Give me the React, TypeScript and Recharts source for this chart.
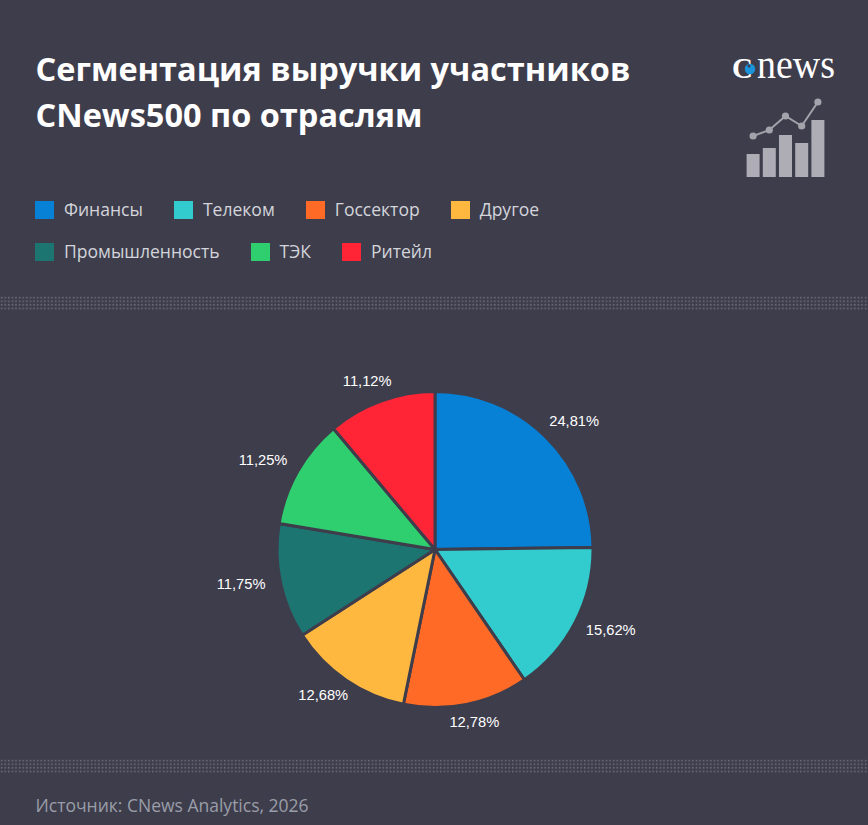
import { Bar, Cell, ComposedChart, Line, Pie, PieChart, XAxis, YAxis } from 'recharts';

const categories = ['Финансы', 'Телеком', 'Госсектор', 'Другое', 'Промышленность', 'ТЭК', 'Ритейл'];
const shares = [24.81, 15.62, 12.78, 12.68, 11.75, 11.25, 11.12];
const colors = ['#0681d6', '#32cccf', '#ff6b26', '#ffb83f', '#1d7572', '#2fce6f', '#ff2536'];
const legendRows = [[0, 1, 2, 3], [4, 5, 6]];

const iconBars = [23, 29, 42, 34, 57];
const iconLine = [41, 47, 61, 51, 75];

const BG = '#3e3d4c';
const pieData = categories.map((name, i) => ({ name, value: shares[i] }));
const iconData = iconBars.map((bar, i) => ({ i, bar, line: iconLine[i] }));

const font = '"Open Sans", sans-serif';

function Dots({ top, id }: { top: number; id: string }) {
  return (
    <svg width={868} height={14} style={{ position: 'absolute', left: 0, top }}>
      <defs>
        <pattern id={id} width={3.6} height={3.6} patternUnits="userSpaceOnUse">
          <rect x={0.8} y={0.8} width={1.6} height={1.6} fill="#8a8a94" />
        </pattern>
      </defs>
      <rect x={0} y={0} width={868} height={14} fill={`url(#${id})`} opacity={0.6} />
    </svg>
  );
}

function renderLabel(props: any) {
  const { cx, cy, midAngle, value } = props;
  const rad = (midAngle * Math.PI) / 180;
  const x = cx + 198 * Math.cos(rad);
  const y = cy - 1.5 - 178 * Math.sin(rad);
  return (
    <text x={x} y={y} fill="#ffffff" textAnchor="middle" dominantBaseline="central"
      style={{ fontFamily: '"Liberation Sans", Arial, sans-serif', fontSize: 14.7 }}>
      {value.toFixed(2).replace('.', ',')}%
    </text>
  );
}

export default function App() {
  return (
    <div style={{ position: 'absolute', left: 0, top: 0, width: 868, height: 825, background: BG, overflow: 'hidden', fontFamily: font }}>
      <div style={{ position: 'absolute', left: 35.5, top: 46, color: '#ffffff', fontSize: 32.5, fontWeight: 700, lineHeight: '46px', whiteSpace: 'nowrap' }}>
        Сегментация выручки участников
        <br />
        CNews500 по отраслям
      </div>

      {/* logo */}
      <svg width={125} height={50} style={{ position: 'absolute', left: 725, top: 40 }}>
        <text x={7} y={38} fill="#ffffff" style={{ fontFamily: '"Liberation Serif", serif', fontSize: 29, fontWeight: 700 }}>C</text>
        <circle cx={25} cy={29} r={5.2} fill="#1a95dc" />
        <circle cx={24} cy={26} r={1.5} fill={BG} />
        <text x={32} y={38} fill="#ffffff" textLength={78} lengthAdjust="spacingAndGlyphs" style={{ fontFamily: '"Liberation Serif", serif', fontSize: 40 }}>news</text>
      </svg>
      <div style={{ position: 'absolute', left: 744.5, top: 98 }}>
        <ComposedChart width={81} height={79} data={iconData} margin={{ top: 4, right: 0, bottom: 0, left: 0 }} barCategoryGap={1.6}>
          <XAxis dataKey="i" hide />
          <YAxis hide domain={[0, 75]} />
          <Bar dataKey="bar" fill="#aeadb5" isAnimationActive={false} />
          <Line dataKey="line" stroke="#a3a3ab" strokeWidth={2} dot={{ r: 2.6, fill: '#a3a3ab', stroke: '#a3a3ab' }} isAnimationActive={false} />
        </ComposedChart>
      </div>

      {/* legend */}
      {legendRows.map((row, r) => (
        <div key={r} style={{ position: 'absolute', left: 35, top: 199 + r * 42, display: 'flex', gap: 31, whiteSpace: 'nowrap' }}>
          {row.map((c) => (
            <div key={c} style={{ display: 'flex', alignItems: 'center', height: 21 }}>
              <span style={{ width: 19, height: 18, background: colors[c], marginRight: 10 }} />
              <span style={{ color: '#d3d5da', fontSize: 17.55, lineHeight: '21px' }}>{categories[c]}</span>
            </div>
          ))}
        </div>
      ))}

      <Dots top={296} id="dotsTop" />

      <div style={{ position: 'absolute', left: 0, top: 0 }}>
        <PieChart width={868} height={825} margin={{ top: 0, right: 0, bottom: 0, left: 0 }}>
          <Pie
            data={pieData}
            dataKey="value"
            cx={435}
            cy={549.5}
            outerRadius={158}
            startAngle={90}
            endAngle={-270}
            stroke={BG}
            strokeWidth={3}
            label={renderLabel}
            labelLine={false}
            isAnimationActive={false}
          >
            {pieData.map((d, i) => (
              <Cell key={d.name} fill={colors[i]} />
            ))}
          </Pie>
        </PieChart>
      </div>

      <Dots top={759} id="dotsBottom" />

      <div style={{ position: 'absolute', left: 35.5, top: 793, color: '#9a9ea8', fontSize: 17.5, lineHeight: '24px', whiteSpace: 'nowrap' }}>
        Источник: CNews Analytics, 2026
      </div>
    </div>
  );
}
